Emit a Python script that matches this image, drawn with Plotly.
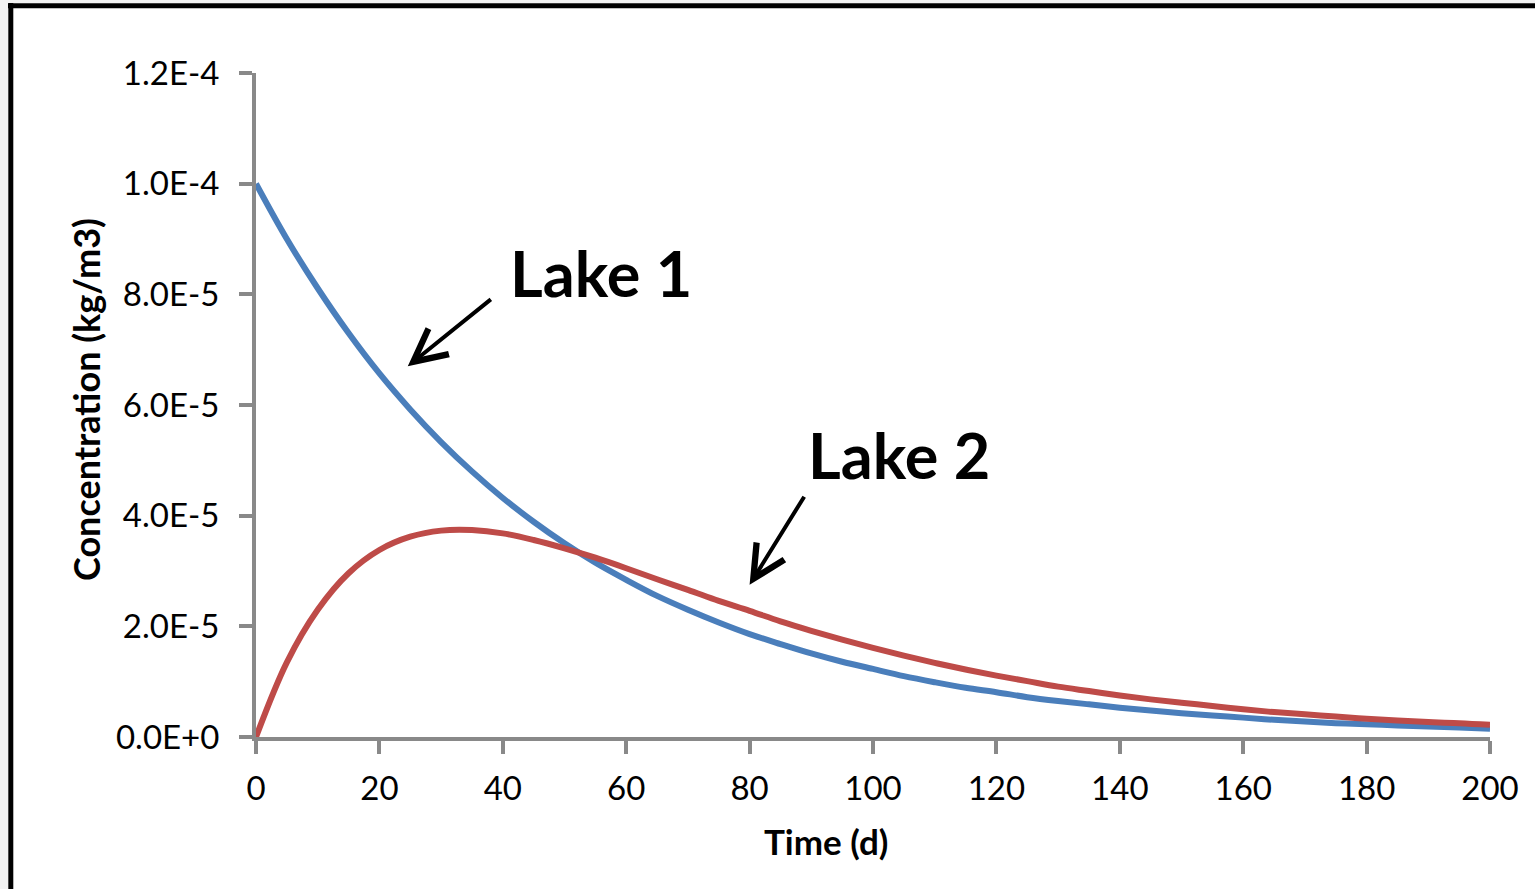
import plotly.graph_objects as go

# ---- data ----
time_d = [0, 5, 10, 15, 20, 25, 30, 35, 40, 45, 50, 55, 60, 65, 70, 75, 80, 85, 90, 95,
          100, 105, 110, 115, 120, 125, 130, 135, 140, 145, 150, 155, 160, 165, 170, 175,
          180, 185, 190, 195, 200]
lake1_e5 = [10.0, 9.00, 8.11, 7.30, 6.57, 5.92, 5.33, 4.80, 4.32, 3.89, 3.50, 3.15, 2.84,
            2.55, 2.30, 2.07, 1.86, 1.68, 1.51, 1.36, 1.23, 1.10, 0.99, 0.89, 0.81, 0.72,
            0.65, 0.59, 0.53, 0.48, 0.43, 0.39, 0.35, 0.31, 0.28, 0.25, 0.23, 0.21, 0.19,
            0.17, 0.15]
lake2_e5 = [0.0, 1.35, 2.30, 2.96, 3.38, 3.62, 3.73, 3.74, 3.68, 3.56, 3.41, 3.24, 3.05,
            2.85, 2.66, 2.46, 2.28, 2.09, 1.92, 1.76, 1.61, 1.47, 1.34, 1.22, 1.11, 1.01,
            0.91, 0.83, 0.75, 0.68, 0.62, 0.56, 0.50, 0.45, 0.41, 0.37, 0.33, 0.30, 0.27,
            0.25, 0.22]
lake1 = [v * 1e-5 for v in lake1_e5]
lake2 = [v * 1e-5 for v in lake2_e5]

x_ticks = [0, 20, 40, 60, 80, 100, 120, 140, 160, 180, 200]
y_tickvals = [0, 2e-5, 4e-5, 6e-5, 8e-5, 1.0e-4, 1.2e-4]
y_ticktext = ["0.0E+0", "2.0E-5", "4.0E-5", "6.0E-5", "8.0E-5", "1.0E-4", "1.2E-4"]

W, H = 1535, 889
ML, MR, MT, MB = 256, 45, 73, 152
PW, PH = W - ML - MR, H - MT - MB


def px_x(p):
    return (p - ML) / PW


def px_y(p):
    return (H - MB - p) / PH


AXIS = "#898989"
BLUE = "#4A7EBB"
RED = "#BE4B48"

fig = go.Figure()
fig.add_trace(go.Scatter(x=time_d, y=lake1, mode="lines", name="Lake 1",
                         line=dict(color=BLUE, width=6, shape="spline")))
fig.add_trace(go.Scatter(x=time_d, y=lake2, mode="lines", name="Lake 2",
                         line=dict(color=RED, width=6, shape="spline")))

fig.update_layout(
    width=W, height=H,
    margin=dict(l=ML, r=MR, t=MT, b=MB, pad=0),
    paper_bgcolor="white", plot_bgcolor="white",
    showlegend=False,
    font=dict(family="Lato", color="black"),
)
fig.update_xaxes(
    range=[0, 200], tickvals=x_ticks, showgrid=False, zeroline=False,
    showline=True, linecolor=AXIS, linewidth=4,
    ticks="outside", ticklen=13, tickwidth=4, tickcolor=AXIS,
    ticklabelstandoff=6,
    tickfont=dict(family="Lato", size=33, color="black"),
)
fig.update_yaxes(
    range=[0, 1.2e-4], tickvals=y_tickvals, ticktext=y_ticktext, showgrid=False,
    zeroline=False, showline=True, linecolor=AXIS, linewidth=4,
    ticks="outside", ticklen=13, tickwidth=4, tickcolor=AXIS,
    ticklabelstandoff=13,
    tickfont=dict(family="Lato", size=33, color="black"),
)

# axis titles
fig.add_annotation(xref="paper", yref="paper", x=px_x(826), y=px_y(841),
                   xanchor="center", yanchor="middle",
                   text="<b>Time (d)</b>", showarrow=False,
                   font=dict(family="Lato", size=35, color="black"))
fig.add_annotation(xref="paper", yref="paper", x=px_x(86), y=px_y(400),
                   xanchor="center", yanchor="middle",
                   text="<b>Concentration (kg/m3)</b>", showarrow=False, textangle=-90,
                   font=dict(family="Lato", size=36, color="black"))

# labels and arrows
fig.add_annotation(x=55.9, y=8.39e-5, text="<b>Lake 1</b>", showarrow=False,
                   font=dict(family="Lato", size=63, color="black"))
fig.add_annotation(x=104.2, y=5.10e-5, text="<b>Lake 2</b>", showarrow=False,
                   font=dict(family="Lato", size=63, color="black"))
fig.add_annotation(x=24.6, y=6.70e-5, ax=38.3, ay=7.93e-5, axref="x", ayref="y",
                   text="", showarrow=True, arrowhead=5, arrowsize=1.6, arrowwidth=4,
                   arrowcolor="black")
fig.add_annotation(x=80.0, y=2.75e-5, ax=89.0, ay=4.37e-5, axref="x", ayref="y",
                   text="", showarrow=True, arrowhead=5, arrowsize=1.6, arrowwidth=4,
                   arrowcolor="black")

# outer frame (light gray margin + black border)
fig.add_shape(type="rect", xref="paper", yref="paper", layer="below",
              x0=px_x(0), x1=px_x(8), y0=px_y(H), y1=px_y(0),
              fillcolor="#F2F2F2", line_width=0)
fig.add_shape(type="rect", xref="paper", yref="paper", layer="below",
              x0=px_x(0), x1=px_x(W), y0=px_y(3), y1=px_y(0),
              fillcolor="#F2F2F2", line_width=0)
fig.add_shape(type="line", xref="paper", yref="paper",
              x0=px_x(10.8), x1=px_x(10.8), y0=px_y(3), y1=px_y(H),
              line=dict(color="black", width=5))
fig.add_shape(type="line", xref="paper", yref="paper",
              x0=px_x(8), x1=px_x(W), y0=px_y(5.8), y1=px_y(5.8),
              line=dict(color="black", width=5))

fig.write_html("out.html", config={"displayModeBar": False})
